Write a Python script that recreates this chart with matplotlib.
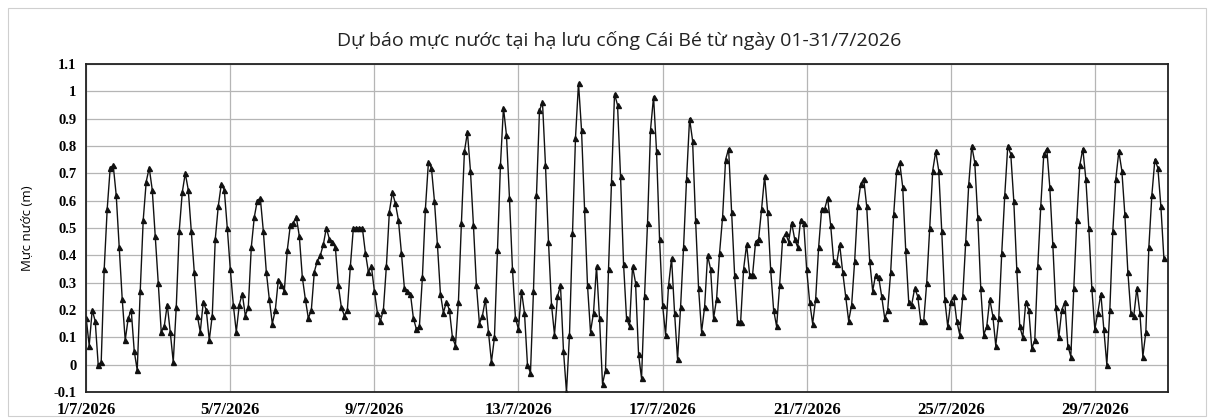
import matplotlib
matplotlib.use("Agg")
import matplotlib.pyplot as plt
import pandas as pd
from matplotlib.patches import Rectangle

# water level every 2 hours, 1/7/2026 00:00 onward (m)
level = [
    0.17, 0.07, 0.20, 0.16, 0.00, 0.01, 0.35, 0.57, 0.72, 0.73, 0.62, 0.43,
    0.24, 0.09, 0.17, 0.20, 0.05, -0.02, 0.27, 0.53, 0.67, 0.72, 0.64, 0.47,
    0.30, 0.12, 0.14, 0.22, 0.12, 0.01, 0.21, 0.49, 0.63, 0.70, 0.64, 0.49,
    0.34, 0.18, 0.12, 0.23, 0.20, 0.09, 0.18, 0.46, 0.58, 0.66, 0.64, 0.50,
    0.35, 0.22, 0.12, 0.22, 0.26, 0.18, 0.21, 0.43, 0.54, 0.60, 0.61, 0.49,
    0.34, 0.24, 0.15, 0.20, 0.31, 0.29, 0.27, 0.42, 0.51, 0.52, 0.54, 0.47,
    0.32, 0.24, 0.17, 0.20, 0.34, 0.38, 0.40, 0.44, 0.50, 0.46, 0.45, 0.43,
    0.29, 0.21, 0.18, 0.20, 0.36, 0.50, 0.50, 0.50, 0.50, 0.41, 0.34, 0.36,
    0.27, 0.19, 0.16, 0.20, 0.36, 0.56, 0.63, 0.59, 0.53, 0.41, 0.28, 0.27,
    0.26, 0.17, 0.13, 0.14, 0.32, 0.57, 0.74, 0.72, 0.60, 0.44, 0.26, 0.19,
    0.23, 0.20, 0.10, 0.07, 0.23, 0.52, 0.78, 0.85, 0.71, 0.51, 0.29, 0.15,
    0.18, 0.24, 0.12, 0.01, 0.10, 0.42, 0.73, 0.94, 0.84, 0.61, 0.35, 0.17,
    0.13, 0.27, 0.19, 0.00, -0.03, 0.27, 0.62, 0.93, 0.96, 0.73, 0.45, 0.22,
    0.11, 0.25, 0.29, 0.05, -0.10, 0.11, 0.48, 0.83, 1.03, 0.86, 0.57, 0.29,
    0.12, 0.19, 0.36, 0.17, -0.07, -0.02, 0.35, 0.67, 0.99, 0.95, 0.69, 0.37,
    0.17, 0.14, 0.36, 0.30, 0.04, -0.05, 0.25, 0.52, 0.86, 0.98, 0.78, 0.46,
    0.22, 0.11, 0.29, 0.39, 0.19, 0.02, 0.21, 0.43, 0.68, 0.90, 0.82, 0.53,
    0.28, 0.12, 0.21, 0.40, 0.35, 0.17, 0.24, 0.41, 0.54, 0.75, 0.79, 0.56,
    0.33, 0.155, 0.155, 0.35, 0.44, 0.33, 0.33, 0.45, 0.46, 0.57, 0.69, 0.56,
    0.35, 0.20, 0.14, 0.29, 0.46, 0.48, 0.45, 0.52, 0.46, 0.43, 0.53, 0.52,
    0.35, 0.23, 0.15, 0.24, 0.43, 0.57, 0.57, 0.61, 0.51, 0.38, 0.37, 0.44,
    0.34, 0.25, 0.16, 0.22, 0.38, 0.58, 0.66, 0.68, 0.58, 0.38, 0.27, 0.33,
    0.32, 0.25, 0.17, 0.20, 0.34, 0.55, 0.71, 0.74, 0.65, 0.42, 0.23, 0.22,
    0.28, 0.25, 0.16, 0.16, 0.30, 0.50, 0.71, 0.78, 0.71, 0.49, 0.24, 0.14,
    0.23, 0.25, 0.16, 0.11, 0.25, 0.45, 0.66, 0.80, 0.74, 0.54, 0.28, 0.11,
    0.14, 0.24, 0.18, 0.07, 0.17, 0.41, 0.62, 0.80, 0.77, 0.60, 0.35, 0.14,
    0.10, 0.23, 0.20, 0.06, 0.09, 0.36, 0.58, 0.77, 0.79, 0.65, 0.44, 0.21,
    0.10, 0.20, 0.23, 0.07, 0.03, 0.28, 0.53, 0.73, 0.79, 0.68, 0.50, 0.28,
    0.13, 0.19, 0.26, 0.13, 0.00, 0.20, 0.49, 0.68, 0.78, 0.71, 0.55, 0.34,
    0.19, 0.18, 0.28, 0.19, 0.03, 0.12, 0.43, 0.62, 0.75, 0.72, 0.58, 0.39,
]
times = pd.date_range("2026-07-01 00:00", periods=len(level), freq="2h")

tick_dates = pd.date_range("2026-07-01", "2026-07-29", freq="4D")
tick_labels = ["1/7/2026", "5/7/2026", "9/7/2026", "13/7/2026",
               "17/7/2026", "21/7/2026", "25/7/2026", "29/7/2026"]
y_ticks = [-0.1, 0, 0.1, 0.2, 0.3, 0.4, 0.5, 0.6, 0.7, 0.8, 0.9, 1.0, 1.1]
y_labels = ["-0.1", "0", "0.1", "0.2", "0.3", "0.4", "0.5", "0.6",
            "0.7", "0.8", "0.9", "1", "1.1"]

fig = plt.figure(figsize=(12.14, 4.18), dpi=100)
ax = fig.add_axes([0.071, 0.062, 0.891, 0.785])

# faint outer frame of the chart area
fig.patches.append(Rectangle((0.007, 0.005), 0.986, 0.975, transform=fig.transFigure,
                             fill=False, edgecolor="#cfcfcf", linewidth=0.8))

ax.plot(times, level, color="#111111", linewidth=1.0, marker="^",
        markersize=3.6, markerfacecolor="#111111", markeredgecolor="#111111")

ax.set_xlim(pd.Timestamp("2026-07-01 00:00"), pd.Timestamp("2026-07-31 00:40"))
ax.set_ylim(-0.1, 1.1)
ax.set_xticks(tick_dates)
ax.set_xticklabels(tick_labels)
ax.set_yticks(y_ticks)
ax.set_yticklabels(y_labels)

for lab in ax.get_xticklabels():
    lab.set_fontfamily("Liberation Serif")
    lab.set_fontweight("bold")
    lab.set_fontsize(12)
for lab in ax.get_yticklabels():
    lab.set_fontfamily("Liberation Serif")
    lab.set_fontweight("bold")
    lab.set_fontsize(10.5)
ax.tick_params(length=0, pad=7)
ax.tick_params(axis="x", pad=7)

ax.grid(True, color="#b5b5b5", linewidth=0.9)
ax.set_axisbelow(True)
for s in ax.spines.values():
    s.set_color("#222222")
    s.set_linewidth(1.3)

ax.set_ylabel("Mực nước (m)", fontsize=9.5, family="Open Sans", labelpad=14)
fig.text(0.51, 0.902, "Dự báo mực nước tại hạ lưu cống Cái Bé từ ngày 01-31/7/2026",
         ha="center", va="center", fontsize=14, family="Open Sans", color="#222222")

fig.savefig("out.png", dpi=100)
